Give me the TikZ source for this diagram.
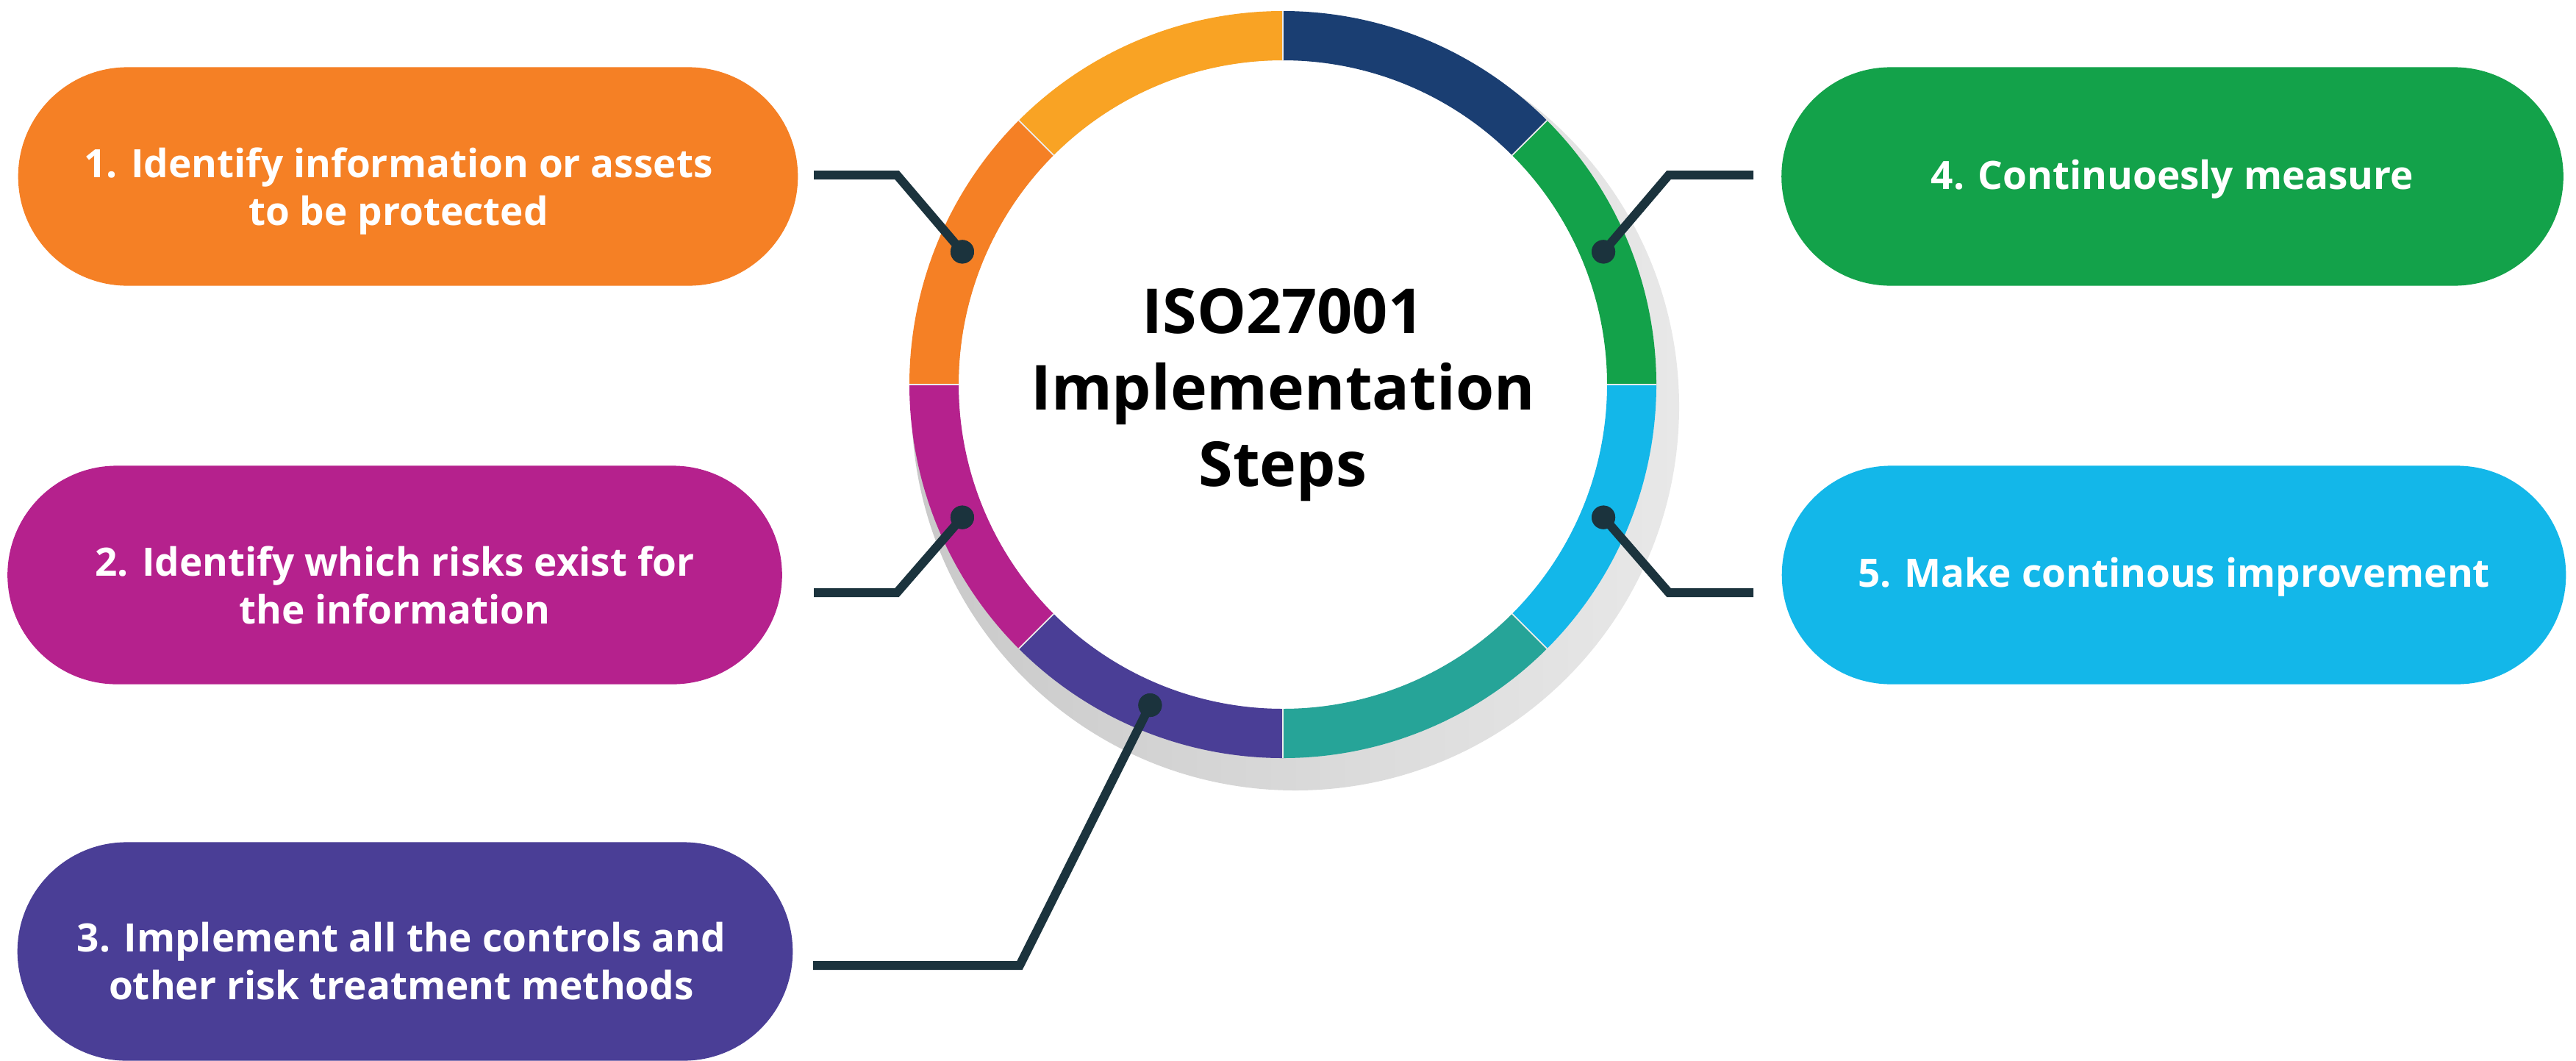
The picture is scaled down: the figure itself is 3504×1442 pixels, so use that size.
\documentclass[tikz,border=0pt]{standalone}
\usepackage{fontspec}
\setmainfont{Open Sans}
\usepackage{tikz}
\definecolor{isoorange}{HTML}{F58025}
\definecolor{isoyellow}{HTML}{F9A324}
\definecolor{isomagenta}{HTML}{B5218D}
\definecolor{isopurple}{HTML}{4A3E96}
\definecolor{isoteal}{HTML}{26A498}
\definecolor{isocyan}{HTML}{13B7E9}
\definecolor{isogreen}{HTML}{13A24A}
\definecolor{isonavy}{HTML}{1A3E72}
\definecolor{isoline}{HTML}{1B333D}
\definecolor{shadowleft}{HTML}{C9C9C9}
\definecolor{shadowright}{HTML}{E8E8E8}
\tikzset{
  stepbox/.style={rectangle, rounded corners=1.485cm, minimum width=10.6cm,
    minimum height=2.97cm, inner sep=0pt},
  steptext/.style={inner sep=0pt, text=white, align=center,
    font=\fontsize{15.1}{18.4}\selectfont\bfseries},
  leader/.style={draw=isoline, line width=0.12cm, miter limit=4},
  pindot/.style={circle, fill=isoline, inner sep=0pt, minimum size=0.32cm},
  title/.style={align=center, inner sep=0pt, text=black,
    font=\fontsize{24}{29.5}\selectfont\bfseries}
}
\begin{document}
\begin{tikzpicture}[x=0.01cm, y=-0.01cm]
  \useasboundingbox (0,0) rectangle (3504,1442);
  \begin{scope}[shift={(1745,523)}, yscale=-1]
    \shade[left color=shadowleft, right color=shadowright] (17,-30) circle[radius=522];
    \fill[white] (0,0) circle[radius=441];
    \foreach \a/\c in {0/isogreen, 45/isonavy, 90/isoyellow, 135/isoorange,
                       180/isomagenta, 225/isopurple, 270/isoteal, 315/isocyan}
      \fill[\c] (\a:508) arc[start angle=\a, delta angle=45, radius=508]
        -- ({\a+45}:441) arc[start angle=\a+45, delta angle=-45, radius=441] -- cycle;
    \foreach \a in {0,45,...,315}
      \draw[white!85!gray, line width=0.5pt] (\a:441) -- (\a:508);
    \node[pindot] (dot1) at (157.5:472) {};
    \node[pindot] (dot2) at (202.5:472) {};
    \node[pindot] (dot3) at (247.5:472) {};
    \node[pindot] (dot4) at (22.5:472) {};
    \node[pindot] (dot5) at (-22.5:472) {};
  \end{scope}
  \node[title] (center) at (1745,537) {ISO27001\\Implementation\\Steps};

  \node[stepbox, fill=isoorange] (step1) at (555,240) {};
  \node[stepbox, fill=isomagenta, minimum width=10.53cm] (step2) at (537,782) {};
  \node[stepbox, fill=isopurple, minimum width=10.54cm] (step3) at (551,1294) {};
  \node[stepbox, fill=isogreen, minimum width=10.63cm] (step4) at (2955,240) {};
  \node[stepbox, fill=isocyan, minimum width=10.66cm] (step5) at (2957,782) {};
  \node[steptext] (text1) at ([xshift=-0.13cm, yshift=-0.2cm]step1.center) {1. Identify information or assets\\to be protected};
  \node[steptext] (text2) at ([yshift=-0.14cm]step2.center) {2. Identify which risks exist for\\the information};
  \node[steptext] (text3) at ([xshift=-0.05cm, yshift=-0.13cm]step3.center) {3. Implement all the controls and\\other risk treatment methods};
  \node[steptext] (text4) at ([yshift=-0.04cm]step4.center) {4. Continuoesly measure};
  \node[steptext] (text5) at ([yshift=-0.03cm]step5.center) {5. Make continous improvement};

  \coordinate (s1) at (1107,238);  \coordinate (e1) at (1220,238);
  \coordinate (s2) at (1107,806);  \coordinate (e2) at (1220,806);
  \coordinate (s3) at (1106,1313); \coordinate (e3) at (1387,1313);
  \coordinate (s4) at (2385,238);  \coordinate (e4) at (2270,238);
  \coordinate (s5) at (2385,806);  \coordinate (e5) at (2270,806);
  \draw[leader] (s1) -- (e1) -- (dot1.center);
  \draw[leader] (s2) -- (e2) -- (dot2.center);
  \draw[leader] (s3) -- (e3) -- (dot3.center);
  \draw[leader] (s4) -- (e4) -- (dot4.center);
  \draw[leader] (s5) -- (e5) -- (dot5.center);
  \foreach \n in {1,...,5}
    \fill[isoline] (dot\n) circle[radius=16];
\end{tikzpicture}
\end{document}
